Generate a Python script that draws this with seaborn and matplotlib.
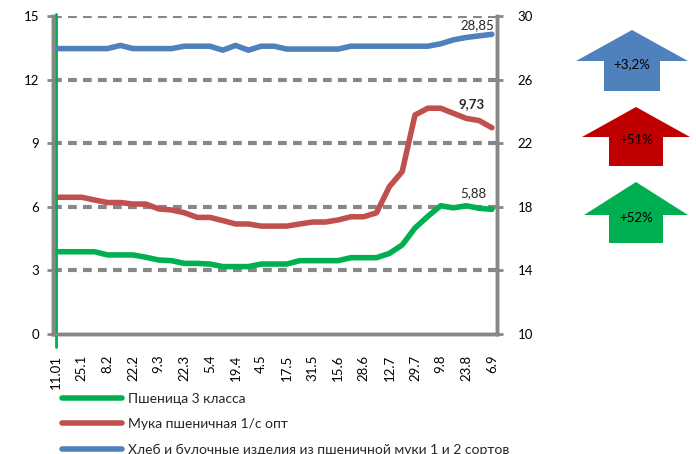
import numpy as np
import pandas as pd
import seaborn as sns
import matplotlib.pyplot as plt
from matplotlib.patches import Polygon

# data (weekly, left axis: wheat and flour, right axis: bread)
dates = ["11.01", "25.1", "8.2", "22.2", "9.3", "22.3", "5.4", "19.4", "4.5",
         "17.5", "31.5", "15.6", "28.6", "12.7", "29.7", "9.8", "23.8", "6.9"]
wheat = [3.88, 3.88, 3.88, 3.88, 3.73, 3.73, 3.73, 3.62, 3.49, 3.46, 3.33, 3.33,
         3.30, 3.18, 3.18, 3.18, 3.30, 3.30, 3.30, 3.46, 3.46, 3.46, 3.46, 3.60,
         3.60, 3.60, 3.80, 4.20, 5.00, 5.55, 6.05, 5.95, 6.05, 5.93, 5.88]
flour = [6.45, 6.45, 6.45, 6.32, 6.20, 6.20, 6.13, 6.13, 5.90, 5.85, 5.72, 5.50,
         5.50, 5.35, 5.19, 5.19, 5.09, 5.09, 5.09, 5.19, 5.28, 5.28, 5.38, 5.53,
         5.53, 5.72, 6.95, 7.66, 10.33, 10.65, 10.65, 10.41, 10.17, 10.07, 9.73]
bread = [27.95, 27.95, 27.95, 27.95, 27.95, 28.15, 27.95, 27.95, 27.95, 27.95,
         28.10, 28.10, 28.10, 27.85, 28.15, 27.85, 28.10, 28.10, 27.92, 27.92,
         27.92, 27.92, 27.92, 28.10, 28.10, 28.10, 28.10, 28.10, 28.10, 28.10,
         28.25, 28.50, 28.65, 28.75, 28.85]
names = ["Пшеница 3 класса", "Мука пшеничная 1/с опт",
         "Хлеб и булочные изделия из пшеничной муки 1 и 2 сортов"]
changes = ["+3,2%", "+51%", "+52%"]

c_green, c_red, c_blue, c_grid = "#00B050", "#C0504D", "#4F81BD", "#878787"

sns.set_style("white")
plt.rcParams["font.family"] = ["Lato", "DejaVu Sans"]

df = pd.DataFrame({"idx": np.arange(len(wheat)), "wheat": wheat,
                   "flour": flour, "bread": bread})

fig = plt.figure(figsize=(6.96, 4.54), dpi=100)
ax = fig.add_axes([53 / 696, 1 - 334 / 454, 444 / 696, 318 / 454])
ax2 = ax.twinx()

# gridlines
for v in [3, 6, 9, 12, 15]:
    ax.axhline(v, color=c_grid, lw=3, ls=(0, (2.1, 1.5)), zorder=0)

sns.lineplot(data=df, x="idx", y="wheat", ax=ax, color=c_green, lw=4,
             label=names[0], legend=False, solid_capstyle="round")
sns.lineplot(data=df, x="idx", y="flour", ax=ax, color=c_red, lw=4,
             label=names[1], legend=False, solid_capstyle="round")
sns.lineplot(data=df, x="idx", y="bread", ax=ax2, color=c_blue, lw=4,
             label=names[2], legend=False, solid_capstyle="round")

ax.set_xlim(-0.25, len(wheat) - 1 + 0.4)
ax.set_ylim(0, 15)
ax2.set_ylim(10, 30)
ax.set_yticks([0, 3, 6, 9, 12, 15])
ax2.set_yticks([10, 14, 18, 22, 26, 30])
ax.set_xticks(np.arange(len(wheat)))
xl = [""] * len(wheat)
xl[::2] = dates
ax.set_xticklabels(xl, rotation=90)
ax.set_xlabel("")
ax.set_ylabel("")
ax2.set_ylabel("")

for a in (ax, ax2):
    for s in a.spines.values():
        s.set_color(c_grid)
        s.set_linewidth(2.5)
    a.spines["top"].set_visible(False)
    a.tick_params(axis="both", colors=c_grid, labelcolor="black",
                  labelsize=9.5, length=4, width=2, direction="out")
ax.tick_params(axis="y", pad=6)
ax2.tick_params(axis="y", pad=11)
ax.tick_params(axis="x", pad=11)

ax.axvline(0, ymin=-0.04, ymax=1.007, color=c_green, lw=2, clip_on=False, zorder=5)

# end labels
n = len(wheat) - 1
ax2.annotate("28,85", (n, bread[-1]), xytext=(-15, 9), textcoords="offset pixels",
             ha="center", va="center", fontsize=9.5)
ax.annotate("9,73", (n, flour[-1]), xytext=(-20, 24), textcoords="offset pixels",
            ha="center", va="center", fontsize=9.5, fontweight="bold")
ax.annotate("5,88", (n, wheat[-1]), xytext=(-19, 16), textcoords="offset pixels",
            ha="center", va="center", fontsize=9.5)

# change arrows on the right
def up_arrow(cx, tip, shoulder, bottom, half_head, half_shaft, color, text):
    W, H = 696, 454
    pts = [(cx, tip), (cx + half_head, shoulder), (cx + half_shaft, shoulder),
           (cx + half_shaft, bottom), (cx - half_shaft, bottom),
           (cx - half_shaft, shoulder), (cx - half_head, shoulder)]
    pts = [(x / W, 1 - y / H) for x, y in pts]
    fig.patches.append(Polygon(pts, closed=True, transform=fig.transFigure,
                               facecolor=color, edgecolor="none"))
    fig.text(cx / W, 1 - (shoulder + 3) / H, text, ha="center", va="center",
             fontsize=9.5, color="black")

up_arrow(632, 30, 61, 91, 56, 28, c_blue, changes[0])
up_arrow(636, 107, 137, 166, 54, 27, "#C00000", changes[1])
up_arrow(636, 182, 215, 243, 52, 27, c_green, changes[2])

h1, l1 = ax.get_legend_handles_labels()
h2, l2 = ax2.get_legend_handles_labels()
fig.legend(h1 + h2, l1 + l2, loc="upper left", bbox_to_anchor=(62 / 696, 1 - 393 / 454),
           frameon=False, fontsize=10, handlelength=4.3, handletextpad=0.43,
           labelspacing=0.95, borderpad=0, borderaxespad=0)

fig.savefig("out.png", dpi=100)
